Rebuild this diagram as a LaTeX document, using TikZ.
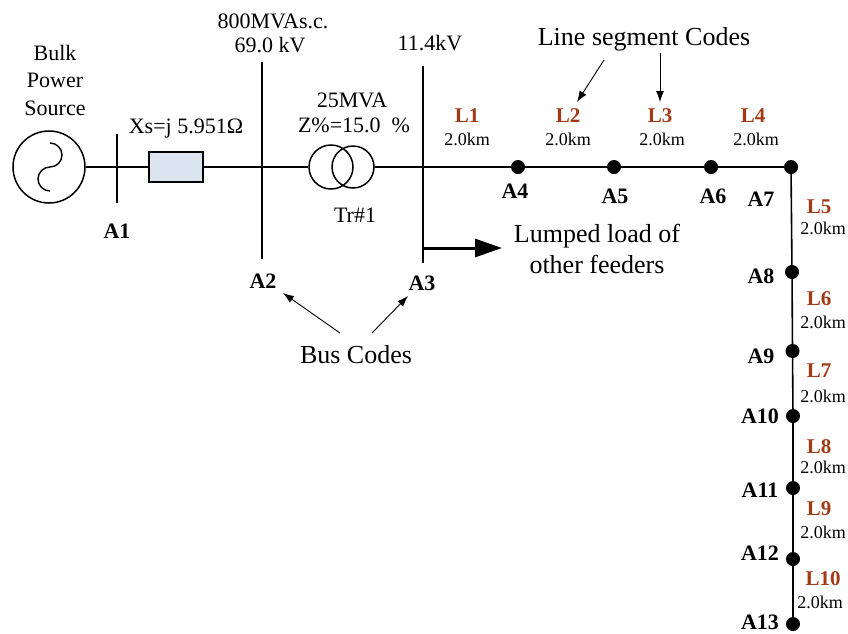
\documentclass[tikz,border=0pt]{standalone}
\usepackage{fontspec}
\setmainfont{Liberation Serif}
\usetikzlibrary{arrows.meta}
\definecolor{lred}{RGB}{163,58,22}
\definecolor{boxblue}{RGB}{220,228,240}
\begin{document}
\begin{tikzpicture}[x=1pt,y=-1pt,
  wire/.style={line width=1.6pt},
  busbar/.style={line width=2pt},
  dot/.style={circle, fill=black, inner sep=0pt, minimum size=14pt},
  buslbl/.style={font=\fontsize{22}{24}\selectfont\bfseries, anchor=base, inner sep=0pt},
  seg/.style={font=\fontsize{21}{23}\selectfont\bfseries, text=lred, anchor=base, inner sep=0pt},
  km/.style={font=\fontsize{18}{20}\selectfont, anchor=base, inner sep=0pt},
  param/.style={font=\fontsize{22}{24}\selectfont, anchor=base, inner sep=0pt},
  note/.style={font=\fontsize{26}{28}\selectfont, anchor=base, inner sep=0pt},
  pointer/.style={line width=0.9pt, -{Latex[length=11pt,width=8pt]}},
  bigarrow/.style={line width=3pt, -{Triangle[length=27pt,width=18pt]}}
]
\useasboundingbox (0,0) rectangle (848,633);

% source
\node[draw, circle, line width=1.5pt, minimum size=72pt, inner sep=0pt] (src) at (49,167) {};
\draw[line width=1.4pt] (50,143) arc[start angle=-90, end angle=90, radius=12]
      arc[start angle=270, end angle=90, radius=12];
\node[param] (t1) at (55,60) {Bulk};
\node[param] (t2) at (55,87) {Power};
\node[param] (t3) at (55,115) {Source};

% bus A1
\coordinate (A1t) at (117,134);
\coordinate (A1b) at (117,203);
\draw[busbar] (A1t) -- (A1b);
\node[buslbl] (lA1) at (117,238) {A1};

% impedance
\node[draw, fill=boxblue, line width=1.2pt, minimum width=54pt, minimum height=30pt, inner sep=0pt] (Xs) at (176,167) {};
\node[param] (tXs) at (186,133) {Xs=j 5.951Ω};

% bus A2
\coordinate (A2t) at (262,62);
\coordinate (A2b) at (262,259);
\draw[busbar] (A2t) -- (A2b);
\node[buslbl] (lA2) at (263,288) {A2};
\node[param] (t800) at (273,28) {800MVAs.c.};
\node[param] (t69) at (270,52) {69.0 kV};

% transformer
\node[draw, circle, line width=1.5pt, minimum size=44pt, inner sep=0pt] (T1) at (331,167) {};
\node[draw, circle, line width=1.5pt, minimum size=42pt, inner sep=0pt] (T2) at (353,167) {};
\node[param] (t25) at (352,107) {25MVA};
\node[param] (tZ) at (354,132) {Z\%=15.0\ \ \%};
\node[param] (tTr) at (355,222) {Tr\#1};

% bus A3
\coordinate (A3t) at (423,66);
\coordinate (A3b) at (423,263);
\coordinate (A3m) at (423,167);
\coordinate (A3l) at (423,248);
\coordinate (LL) at (502,248);
\draw[busbar] (A3t) -- (A3b);
\node[buslbl] (lA3) at (422,290) {A3};
\node[param] (t114) at (430,50) {11.4kV};
\draw[bigarrow] (A3l) -- (LL);
\node[note] (tL1) at (597,242) {Lumped load of};
\node[note] (tL2) at (597,273) {other feeders};

% feeder nodes
\node[dot] (A4) at (518,167) {};
\node[dot] (A5) at (614,167) {};
\node[dot] (A6) at (711,167) {};
\node[dot] (A7) at (791,167) {};
\node[dot] (A8) at (792,272) {};
\node[dot] (A9) at (792.5,351) {};
\node[dot] (A10) at (793,416) {};
\node[dot] (A11) at (793,488) {};
\node[dot] (A12) at (793,559) {};
\node[dot] (A13) at (793,624) {};

% main line
\draw[wire] (src.east) -- (Xs.west);
\draw[wire] (Xs.east) -- (T1.west);
\draw[wire] (T2.east) -- (A3m) -- (A4) -- (A5) -- (A6) -- (A7.center) -- (A8) -- (A9) -- (A10) -- (A11) -- (A12) -- (A13);

% bus labels
\node[buslbl] at (515,198) {A4};
\node[buslbl] at (615,203) {A5};
\node[buslbl] at (713,203) {A6};
\node[buslbl] at (761,206) {A7};
\node[buslbl] at (761,283) {A8};
\node[buslbl] at (761,363) {A9};
\node[buslbl] at (760,423) {A10};
\node[buslbl] at (760,497) {A11};
\node[buslbl] at (760,560) {A12};
\node[buslbl] at (760,629) {A13};

% segment labels
\node[seg] at (467,122) {L1};  \node[km] at (467,145) {2.0km};
\node[seg] at (568,122) {L2};  \node[km] at (568,145) {2.0km};
\node[seg] at (660,122) {L3};  \node[km] at (662,145) {2.0km};
\node[seg] at (753,122) {L4};  \node[km] at (756,145) {2.0km};
\node[seg] at (819,213) {L5};  \node[km] at (823,234) {2.0km};
\node[seg] at (819,305) {L6};  \node[km] at (823,328) {2.0km};
\node[seg] at (819,377) {L7};  \node[km] at (823,402) {2.0km};
\node[seg] at (819,453) {L8};  \node[km] at (823,473) {2.0km};
\node[seg] at (819,515) {L9};  \node[km] at (823,538) {2.0km};
\node[seg] at (823,585) {L10}; \node[km] at (820,608) {2.0km};

% annotations
\node[note] (lsc) at (644,45) {Line segment Codes};
\coordinate (p1s) at (604,60);
\coordinate (p1e) at (577,102);
\coordinate (p2s) at (660,53);
\coordinate (p2e) at (660,102);
\draw[pointer] (p1s) -- (p1e);
\draw[pointer] (p2s) -- (p2e);

\node[note] (bc) at (356,363) {Bus Codes};
\coordinate (b1s) at (340,333);
\coordinate (b1e) at (283,293);
\coordinate (b2s) at (372,333);
\coordinate (b2e) at (408,296);
\draw[pointer] (b1s) -- (b1e);
\draw[pointer] (b2s) -- (b2e);
\end{tikzpicture}
\end{document}
